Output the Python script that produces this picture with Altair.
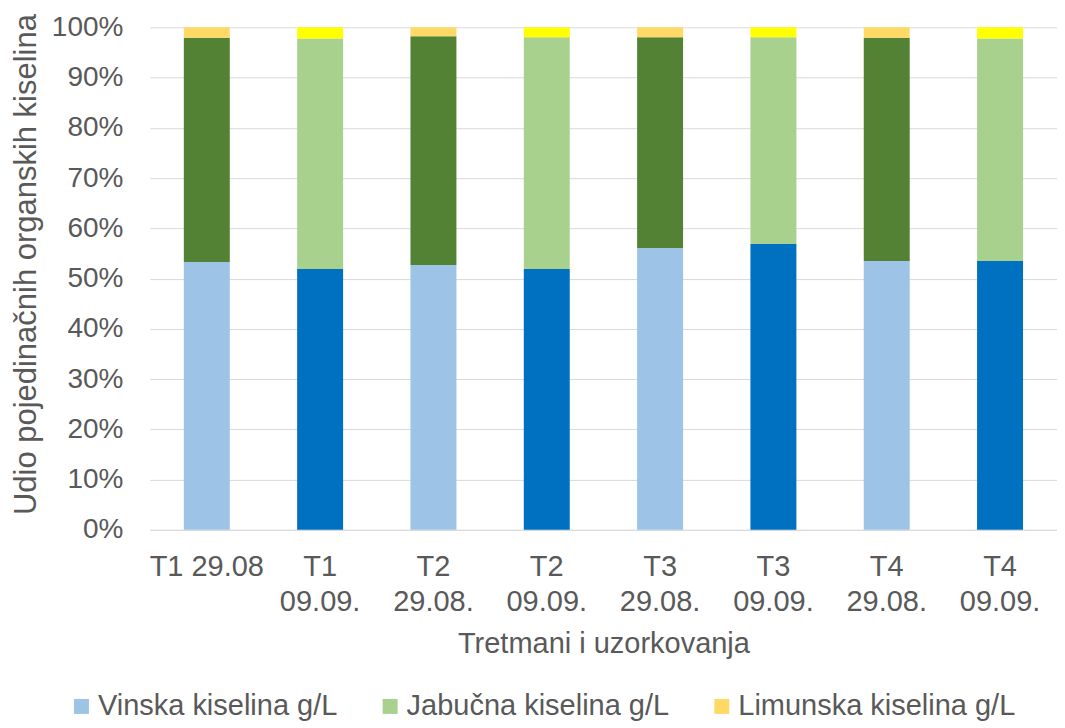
import altair as alt
import pandas as pd

categories = ["T1 29.08", "T1 09.09.", "T2 29.08.", "T2 09.09.",
              "T3 29.08.", "T3 09.09.", "T4 29.08.", "T4 09.09."]
acids = ["Vinska kiselina g/L", "Jabučna kiselina g/L", "Limunska kiselina g/L"]
vinska = [53.3, 51.9, 52.7, 51.9, 56.1, 56.9, 53.5, 53.5]
jabucna = [44.6, 45.9, 45.5, 46.1, 41.9, 41.1, 44.4, 44.3]
limunska = [2.1, 2.2, 1.8, 2.0, 2.0, 2.0, 2.1, 2.2]

# colours per bar type, in acid order (Vinska, Jabučna, Limunska)
colors_2908 = ["#9DC3E6", "#548235", "#FFD966"]
colors_0909 = ["#0070C0", "#A9D18E", "#FFFF00"]
legend_colors = ["#9DC3E6", "#A9D18E", "#FFD966"]

# colour keys: the keys shown in the legend are the plain acid names
key_map = {}
domain = list(acids)
rng = list(legend_colors)
for colset, tag in [(colors_2908, "a"), (colors_0909, "b")]:
    for acid, col, lcol in zip(acids, colset, legend_colors):
        if col == lcol:
            key_map[(tag, acid)] = acid
        else:
            k = acid + " " + tag
            key_map[(tag, acid)] = k
            domain.append(k)
            rng.append(col)

rows = []
for i, cat in enumerate(categories):
    tag = "a" if i % 2 == 0 else "b"
    for j, (acid, vals) in enumerate(zip(acids, [vinska, jabucna, limunska])):
        rows.append({"kategorija": cat, "kiselina": acid,
                     "kljuc": key_map[(tag, acid)],
                     "red": j, "vrijednost": vals[i]})
df = pd.DataFrame(rows)

FONT = "Liberation Sans"
GREY = "#595959"

chart = alt.Chart(df).mark_bar(size=46).encode(
    x=alt.X("kategorija:N", sort=categories,
            title="Tretmani i uzorkovanja",
            scale=alt.Scale(paddingInner=0.595, paddingOuter=0.3),
            axis=alt.Axis(labelAngle=0, ticks=False, tickSize=0,
                          domainColor="#D9D9D9", labelPadding=23,
                          labelLineHeight=35, labelFontSize=29,
                          labelExpr="datum.label == 'T1 29.08' ? datum.label : split(datum.label, ' ')",
                          titleFontSize=29, titlePadding=13)),
    y=alt.Y("vrijednost:Q", stack="normalize",
            title="Udio pojedinačnih organskih kiselina",
            scale=alt.Scale(domain=[0, 1]),
            axis=alt.Axis(format=".0%", values=[i / 10 for i in range(11)],
                          ticks=False, tickSize=0, domain=False,
                          labelPadding=27, titlePadding=9,
                          titleFontSize=31, labelFontSize=28,
                          titleY=237,
                          gridColor="#D9D9D9")),
    color=alt.Color("kljuc:N", scale=alt.Scale(domain=domain, range=rng),
                    legend=alt.Legend(values=acids, title=None,
                                      orient="none", direction="horizontal",
                                      legendX=-83, legendY=665,
                                      symbolType="square", symbolSize=225,
                                      symbolStrokeWidth=0, labelOffset=2,
                                      columnPadding=38, padding=0,
                                      labelLimit=0)),
    order=alt.Order("red:Q", sort="ascending"),
).properties(
    width=908, height=503,
    padding={"left": 2, "right": 0, "top": 5, "bottom": 0},
).configure_view(stroke=None).configure_axis(
    labelFont=FONT, titleFont=FONT,
    labelColor=GREY, titleColor=GREY, titleFontWeight="normal",
).configure_legend(
    labelFont=FONT, labelFontSize=29, labelColor=GREY,
)

chart.save("out.html", embed_options={"renderer": "svg", "actions": False})
